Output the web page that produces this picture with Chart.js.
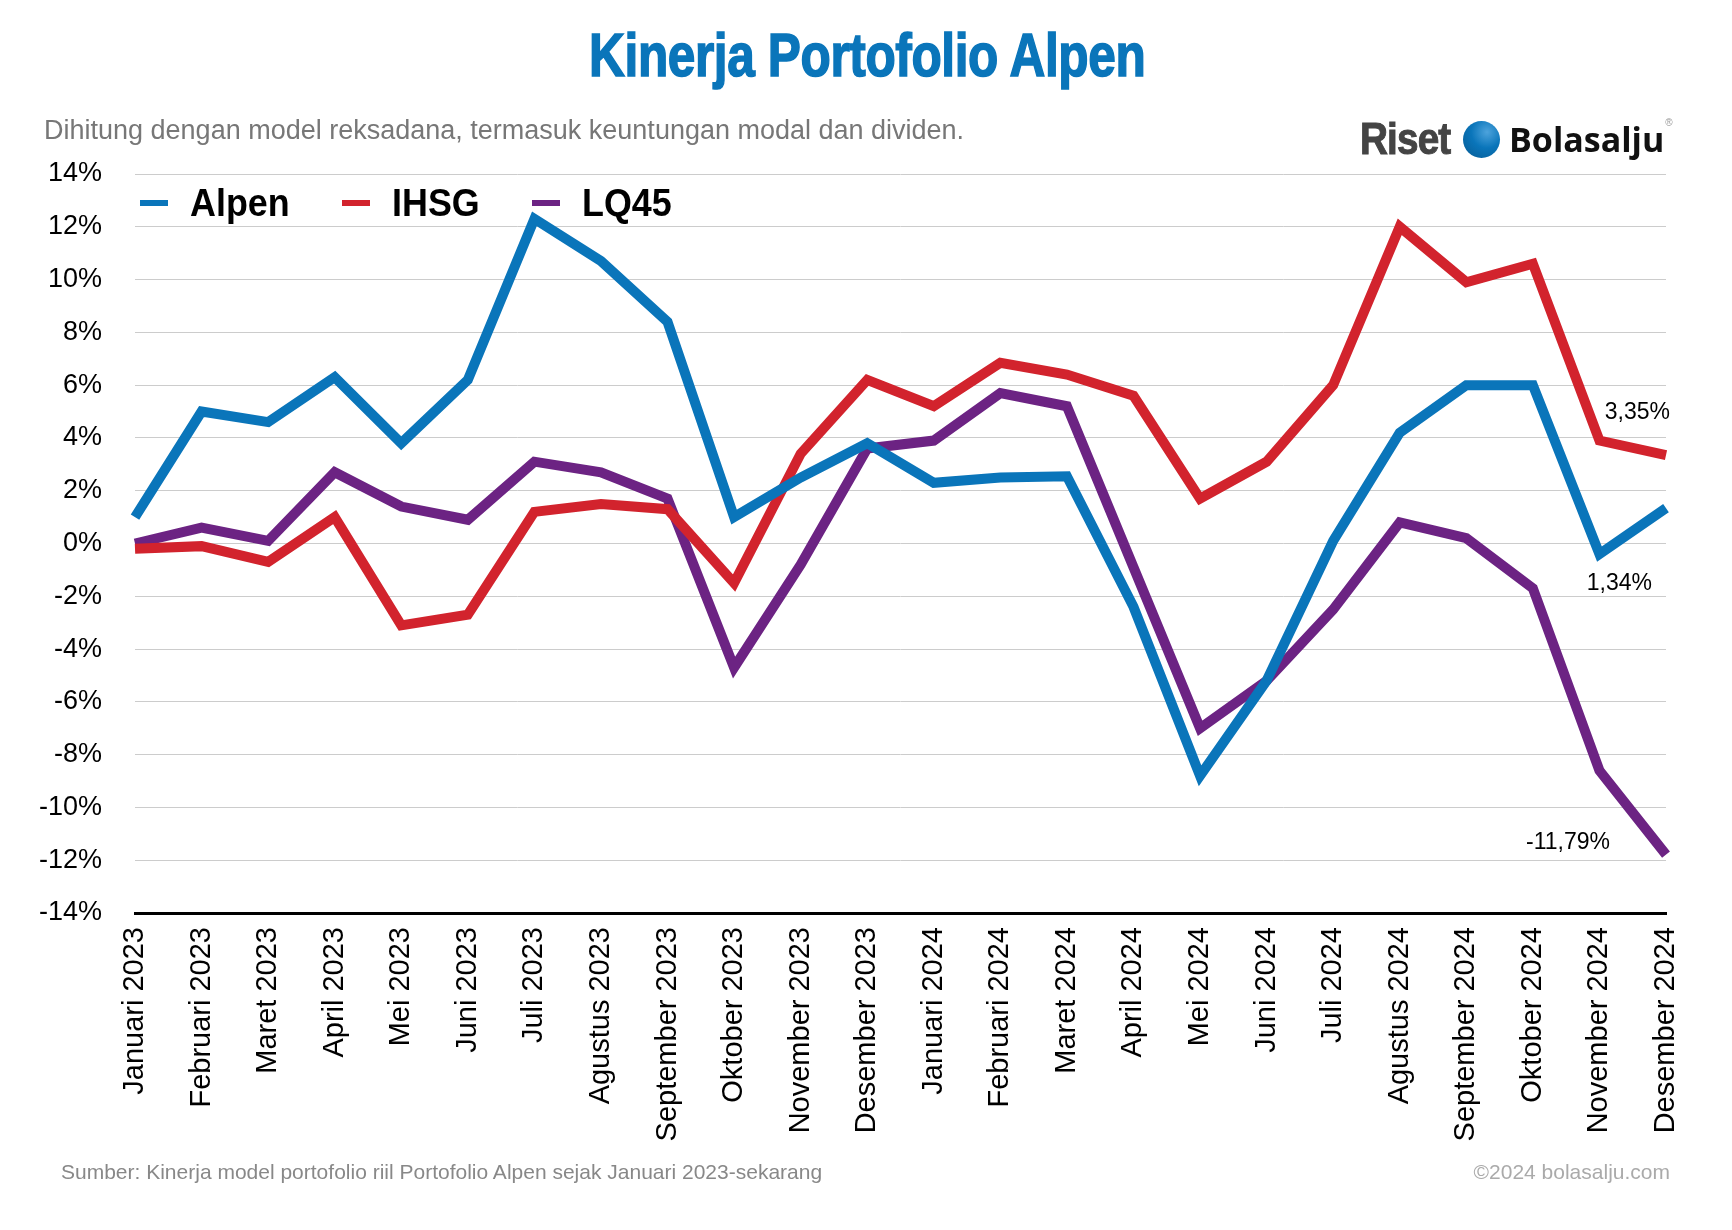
<!DOCTYPE html>
<html lang="id">
<head>
    <meta charset="UTF-8">
    <title>Kinerja Portofolio Alpen</title>
    <script src="https://cdn.jsdelivr.net/npm/chart.js"></script>
    <style>
        body {
            margin: 0;
            background: #fff;
            font-family: 'Liberation Sans', Arial, sans-serif;
        }

        .page {
            position: relative;
            width: 1732px;
            height: 1230px;
            overflow: hidden;
        }

        #chart {
            position: absolute;
            left: 0;
            top: 0;
        }

        .title {
            position: absolute;
            left: 0;
            width: 1732px;
            top: 24px;
            text-align: center;
            font-size: 62px;
            font-weight: bold;
            color: #0a75ba;
            -webkit-text-stroke: 1.6px #0a75ba;
            transform: scaleX(0.8);
            transform-origin: 872px 0;
            line-height: 1;
            letter-spacing: -0.5px;
        }

        .subtitle {
            position: absolute;
            left: 44px;
            top: 115px;
            font-size: 27px;
            color: #777;
        }

        .logo {
            position: absolute;
            left: 1360px;
            top: 117px;
            height: 44px;
            display: flex;
            align-items: center;
        }
        .logo .riset {
            font-size: 45px;
            font-weight: bold;
            color: #444;
            -webkit-text-stroke: 1px #444;
            transform: scaleX(0.86);
            transform-origin: 0 50%;
            width: 98px;
            letter-spacing: -1px;
        }
        .logo .ball {
            width: 37px;
            height: 37px;
            border-radius: 50%;
            background: radial-gradient(circle at 65% 30%, #4da3dc 0%, #0a75ba 45%, #075a92 100%);
            margin: 0 9px 0 5px;
        }
        .logo .bola {
            font-size: 34px;
            font-weight: bold;
            color: #111;
            font-family: 'Open Sans', 'Liberation Sans', sans-serif;
        }
        .logo sup {
            font-size: 10px;
            color: #999;
            align-self: flex-start;
            margin-left: 1px;
        }

        .legend {
            position: absolute;
            left: 140px;
            top: 183px;
            display: flex;
            align-items: center;
        }
        .legend .item {
            display: flex;
            align-items: center;
            margin-right: 44px;
        }
        .legend .dash {
            width: 28px;
            height: 6px;
            margin-right: 22px;
        }
        .legend .name {
            font-size: 39px;
            font-weight: bold;
            color: #000;
            display: inline-block;
            transform: scaleX(0.92);
            transform-origin: 0 50%;
            line-height: 1;
        }

        .source {
            position: absolute;
            left: 61px;
            top: 1160px;
            font-size: 21px;
            color: #888;
        }
        .copy {
            position: absolute;
            right: 62px;
            top: 1160px;
            font-size: 21px;
            color: #aaa;
        }
    </style>
</head>
<body>
    <div class="page">
        <canvas id="chart" width="1732" height="1230"></canvas>
        <div class="title">Kinerja Portofolio Alpen</div>
        <div class="subtitle">Dihitung dengan model reksadana, termasuk keuntungan modal dan dividen.</div>
        <div class="logo">
            <span class="riset">Riset</span>
            <span class="ball"></span>
            <span class="bola">Bolasalju</span>
            <sup>®</sup>
        </div>
        <div class="legend" id="legend"></div>
        <div class="source">Sumber: Kinerja model portofolio riil Portofolio Alpen sejak Januari 2023-sekarang</div>
        <div class="copy">©2024 bolasalju.com</div>
    </div>

    <script>
        // months on the x axis
        const months = [
            'Januari 2023', 'Februari 2023', 'Maret 2023', 'April 2023', 'Mei 2023', 'Juni 2023',
            'Juli 2023', 'Agustus 2023', 'September 2023', 'Oktober 2023', 'November 2023', 'Desember 2023',
            'Januari 2024', 'Februari 2024', 'Maret 2024', 'April 2024', 'Mei 2024', 'Juni 2024',
            'Juli 2024', 'Agustus 2024', 'September 2024', 'Oktober 2024', 'November 2024', 'Desember 2024'
        ];

        // cumulative return, %
        const alpen = [1.0, 5.0, 4.6, 6.3, 3.8, 6.2, 12.3, 10.7, 8.4, 1.0, 2.5, 3.8,
                       2.3, 2.5, 2.55, -2.4, -8.8, -5.2, 0.1, 4.2, 6.0, 6.0, -0.4, 1.34];
        const ihsg = [-0.2, -0.1, -0.7, 1.0, -3.1, -2.7, 1.2, 1.5, 1.3, -1.5, 3.4, 6.2,
                      5.2, 6.85, 6.4, 5.6, 1.7, 3.1, 6.0, 12.0, 9.9, 10.6, 3.9, 3.35];
        const lq45 = [0.0, 0.6, 0.1, 2.7, 1.4, 0.9, 3.1, 2.7, 1.7, -4.7, -0.8, 3.6,
                      3.9, 5.7, 5.2, -0.9, -7.0, -5.2, -2.5, 0.8, 0.2, -1.7, -8.6, -11.79];

        const yTicks = [-14, -12, -10, -8, -6, -4, -2, 0, 2, 4, 6, 8, 10, 12, 14];

        const FONT = "'Liberation Sans', Arial, sans-serif";

        const series = [
            { name: 'Alpen', data: alpen, color: '#0a75ba' },
            { name: 'IHSG', data: ihsg, color: '#d2232d' },
            { name: 'LQ45', data: lq45, color: '#6c2383' }
        ];

        // legend
        document.getElementById('legend').innerHTML = series
            .map(s => `<div class="item"><span class="dash" style="background:${s.color}"></span><span class="name">${s.name}</span></div>`)
            .join('');

        // final value labels next to the last point
        const endLabelOffsets = {
            IHSG: { dx: 4, dy: -42 },
            Alpen: { dx: -14, dy: 76 },
            LQ45: { dx: -56, dy: -12 }
        };

        const endLabels = {
            id: 'endLabels',
            afterDatasetsDraw(chart) {
                const ctx = chart.ctx;
                const xs = chart.scales.x, ys = chart.scales.y;
                ctx.save();
                ctx.font = '23px ' + FONT;
                ctx.fillStyle = '#000';
                ctx.textAlign = 'right';
                ctx.textBaseline = 'middle';
                chart.data.datasets.forEach(ds => {
                    const i = ds.data.length - 1;
                    const v = ds.data[i];
                    const off = endLabelOffsets[ds.label];
                    const x = xs.getPixelForValue(i) + off.dx;
                    const y = ys.getPixelForValue(v) + off.dy;
                    ctx.fillText(v.toFixed(2).replace('.', ',') + '%', x, y);
                });
                ctx.restore();
            }
        };

        new Chart(document.getElementById('chart'), {
            type: 'line',
            data: {
                labels: months,
                datasets: series.map(s => ({
                    label: s.name,
                    data: s.data,
                    borderColor: s.color,
                    backgroundColor: s.color,
                    borderWidth: 10,
                    borderJoinStyle: 'miter',
                    pointRadius: 0,
                    tension: 0,
                    fill: false
                }))
            },
            options: {
                responsive: false,
                animation: false,
                devicePixelRatio: 1,
                layout: { padding: { left: 10, right: 66, top: 174, bottom: 80 } },
                plugins: {
                    legend: { display: false },
                    tooltip: { enabled: false }
                },
                scales: {
                    x: {
                        grid: { display: false, drawTicks: false },
                        border: { display: true, color: '#000', width: 3 },
                        ticks: {
                            color: '#000',
                            font: { size: 29, family: FONT },
                            maxRotation: 90,
                            minRotation: 90,
                            padding: 14,
                            autoSkip: false
                        },
                        afterFit(scale) { scale.height = 237; }
                    },
                    y: {
                        min: -14,
                        max: 14,
                        afterBuildTicks(scale) { scale.ticks = yTicks.map(v => ({ value: v })); },
                        ticks: {
                            color: '#000',
                            font: { size: 27, family: FONT },
                            padding: 33,
                            callback: v => v + '%'
                        },
                        grid: { color: '#cccccc', lineWidth: 1, drawTicks: false },
                        border: { display: false },
                        afterFit(scale) { scale.width = 125; }
                    }
                }
            },
            plugins: [endLabels]
        });
    </script>
</body>
</html>
